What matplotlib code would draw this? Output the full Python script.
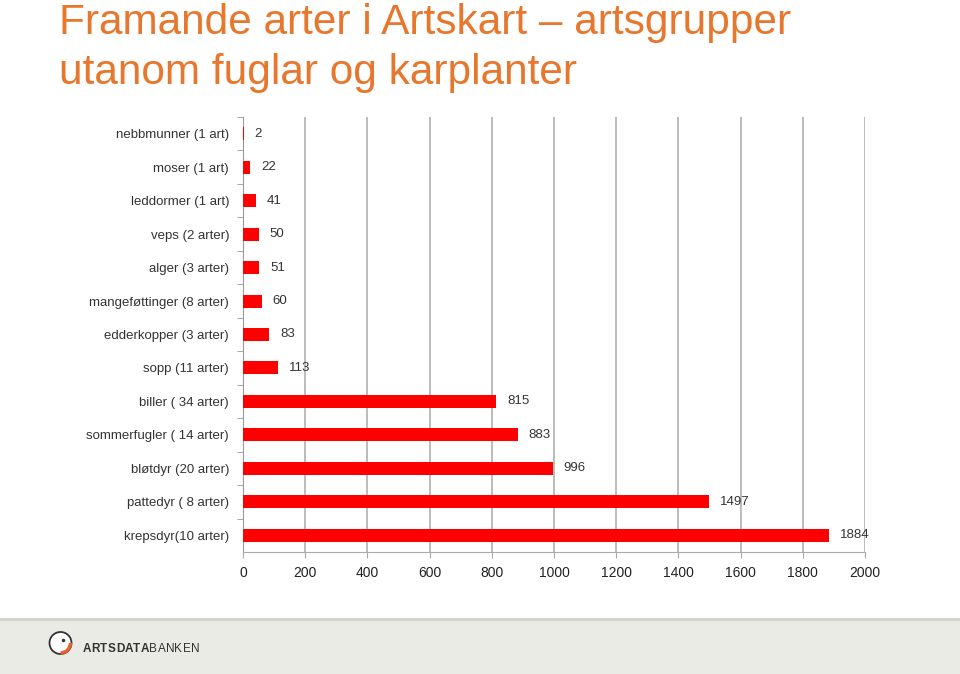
import matplotlib
matplotlib.use('Agg')
import matplotlib.pyplot as plt
from matplotlib.patches import Rectangle, Circle, Wedge

categories = ['nebbmunner (1 art)', 'moser (1 art)', 'leddormer (1 art)', 'veps (2 arter)',
              'alger (3 arter)', 'mangeføttinger (8 arter)', 'edderkopper (3 arter)',
              'sopp (11 arter)', 'biller ( 34 arter)', 'sommerfugler ( 14 arter)',
              'bløtdyr (20 arter)', 'pattedyr ( 8 arter)', 'krepsdyr(10 arter)']
values = [2, 22, 41, 50, 51, 60, 83, 113, 815, 883, 996, 1497, 1884]
xticks = [0, 200, 400, 600, 800, 1000, 1200, 1400, 1600, 1800, 2000]

title_lines = ['Framande arter i Artskart \u2013 artsgrupper', 'utanom fuglar og karplanter']

plt.rcParams['font.family'] = ['Liberation Sans', 'DejaVu Sans']

W, H = 960, 674
fig = plt.figure(figsize=(W / 100, H / 100), dpi=100)

# footer band with logo, drawn in pixel coords
fax = fig.add_axes([0, 0, 1, (H - 617) / H])
fax.set_xlim(0, W)
fax.set_ylim(674, 617)
fax.axis('off')
fax.add_patch(Rectangle((0, 619), W, 60, facecolor='#ebebe5', edgecolor='none'))
fax.plot([0, W], [618.5, 618.5], color='#cfcfc7', linewidth=1.8)
fax.add_patch(Circle((60.5, 643), 11, facecolor='white', edgecolor='#333333', linewidth=1.3, zorder=3))
fax.add_patch(Wedge((60.5, 643), 11.7, 0, 90, width=3.5, facecolor='#e8602e', edgecolor='none', zorder=4))
fax.plot([63], [640], marker='o', markersize=1.5, color='#333333', zorder=5)
logo = 'ARTSDATABANKEN'
for i, ch in enumerate(logo):
    fax.text(87 + i * 8.3, 649, ch, fontsize=8.5,
             fontweight='bold' if i < 8 else 'normal', color='#333333',
             va='center', ha='center')

# axes placed in pixel terms
left, right, top, bottom = 243, 865, 117, 552
ax = fig.add_axes([left / W, 1 - bottom / H, (right - left) / W, (bottom - top) / H])

pos = list(range(len(categories)))
ax.barh(pos, values, height=0.39, color='#ff0000', zorder=3)
for p, v in zip(pos, values):
    ax.annotate(str(v), (v, p), xytext=(8, 0), textcoords='offset points',
                va='center', ha='left', fontsize=9.5, color='#333333')

ax.set_xlim(0, 2000)
ax.set_ylim(len(categories) - 0.5, -0.5)
ax.set_xticks(xticks)
ax.set_xticklabels([str(t) for t in xticks], fontsize=10, color='#222222')
ax.set_yticks(pos)
ax.set_yticklabels(categories, fontsize=9.5, color='#333333')
ax.set_yticks([p + 0.5 for p in pos[:-1]] + [-0.5], minor=True)
ax.tick_params(axis='y', which='major', length=0, pad=10)
ax.tick_params(axis='y', which='minor', length=4, color='#999999', direction='out')
ax.tick_params(axis='x', length=4, color='#aaaaaa', pad=6)
ax.grid(axis='x', color='#b0b0b0', linewidth=1.2, zorder=0)

ax.spines['top'].set_visible(False)
ax.spines['right'].set_visible(False)
ax.spines['left'].set_color('#999999')
ax.spines['bottom'].set_color('#aaaaaa')

for k, line in enumerate(title_lines):
    fig.text(59 / W, 1 - (34 + 50 * k) / H, line, fontsize=30.5, color='#e8772e',
             va='baseline', ha='left')

fig.savefig('out.png', dpi=100)
